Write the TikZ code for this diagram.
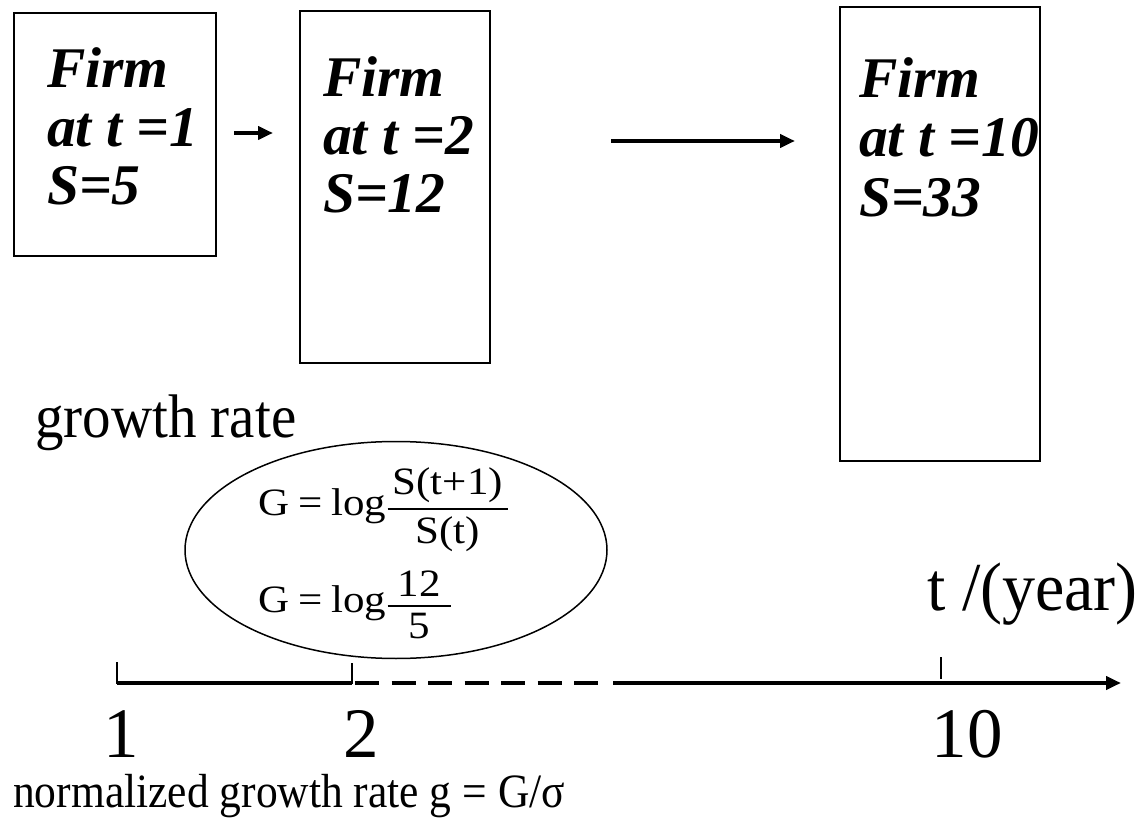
\documentclass[tikz,border=0pt]{standalone}
\usepackage{fontspec}
\usepackage{amsmath}
\usepackage{graphicx}
\setmainfont{Liberation Serif}
\usetikzlibrary{arrows.meta,shapes.geometric,calc}
\begin{document}
\begin{tikzpicture}[x=1pt,y=-1pt,
  firmbox/.style={draw, line width=2pt, anchor=north west, inner sep=0pt},
  firmtext/.style={anchor=base west, inner sep=0pt, font=\fontsize{57.5}{58}\selectfont\bfseries\itshape},
  plain/.style={anchor=base west, inner sep=0pt},
  bigarrow/.style={line width=4pt, -{Triangle[length=15pt,width=13pt]}},
  axisline/.style={line width=4pt},
  tickline/.style={line width=2.5pt},
  numlabel/.style={anchor=base, inner sep=0pt, text depth=0pt, font=\fontsize{71}{74}\selectfont},
  formula/.style={anchor=base west, inner sep=0pt, font=\fontsize{43}{46}\selectfont}
]
\useasboundingbox (0,0) rectangle (1144,818);
\fill[white] (0,0) rectangle (1144,818);

% firm boxes
\node[firmbox, minimum width=202pt, minimum height=243pt] (b1) at (13,12) {};
\node[firmbox, minimum width=190pt, minimum height=352pt] (b2) at (299,10) {};
\node[firmbox, minimum width=200pt, minimum height=454pt] (b3) at (839,6) {};

\node[firmtext] (b1a) at (47,88) {Firm};
\node[firmtext] (b1b) at (47,147) {at t =1};
\node[firmtext] (b1c) at (47,205) {S=5};

\node[firmtext] (b2a) at (323,97) {Firm};
\node[firmtext] (b2b) at (323,155) {at t =2};
\node[firmtext] (b2c) at (323,213) {S=12};

\node[firmtext] (b3a) at (859,98) {Firm};
\node[firmtext] (b3b) at (859,157) {at t =10};
\node[firmtext] (b3c) at (859,217) {S=33};

% arrows between boxes
\coordinate (a1s) at (234,133);
\coordinate (a1e) at (273,133);
\draw[bigarrow] (a1s) -- (a1e);
\coordinate (a2s) at (611,141);
\coordinate (a2e) at (795,141);
\draw[bigarrow] (a2s) -- (a2e);

% growth rate
\node[plain, font=\fontsize{57}{60}\selectfont] (gr) at (35,437) {\scalebox{1}[1.08]{growth rate}};

% ellipse with formulas
\node[draw, ellipse, line width=1.5pt, minimum width=422pt, minimum height=217pt, inner sep=0pt] (ell) at (396,550) {};
\node[formula] (f1) at (258,515) {\scalebox{1}[0.9]{$\text{G\kern9pt=\kern9pt log}\genfrac{}{}{2.2pt}{0}{\text{\kern5pt S(t+1)\kern5pt}}{\text{S(t)}}$}};
\node[formula] (f2) at (258,612) {\scalebox{1}[0.9]{$\text{G\kern9pt=\kern9pt log}\genfrac{}{}{2.2pt}{0}{\text{\kern10pt 12\kern10pt}}{\text{5}}$}};

% time axis label
\node[plain, font=\fontsize{66}{68}\selectfont] (ty) at (927,610) {\scalebox{1}[1.04]{t /(year)}};

% axis
\coordinate (p1) at (117,683);
\coordinate (p1t) at (117,662);
\coordinate (p2) at (352,683);
\coordinate (p2t) at (352,663);
\coordinate (pds) at (355,683);
\coordinate (pde) at (601,683);
\coordinate (pd) at (613,683);
\coordinate (tip) at (1121,683);
\coordinate (p10) at (941,679);
\coordinate (p10t) at (941,657);

\draw[axisline] (p1) -- (p2);
\draw[tickline] (p1t) -- ([yshift=-1pt]p1);
\draw[tickline] (p2t) -- ([yshift=-1pt]p2);
\draw[axisline, dash pattern=on 24pt off 12.5pt] (pds) -- (pde);
\draw[bigarrow] (pd) -- (tip);
\draw[tickline] (p10t) -- (p10);

\node[numlabel] (n1) at (121,757) {1};
\node[numlabel] (n2) at (361,757) {2};
\node[numlabel] (n10) at (967,757) {10};

\node[plain, text height=34pt, font=\fontsize{43.5}{46}\selectfont] (ng) at (13,807) {\scalebox{1}[1.1]{normalized growth rate g = G/σ}};
\end{tikzpicture}
\end{document}
